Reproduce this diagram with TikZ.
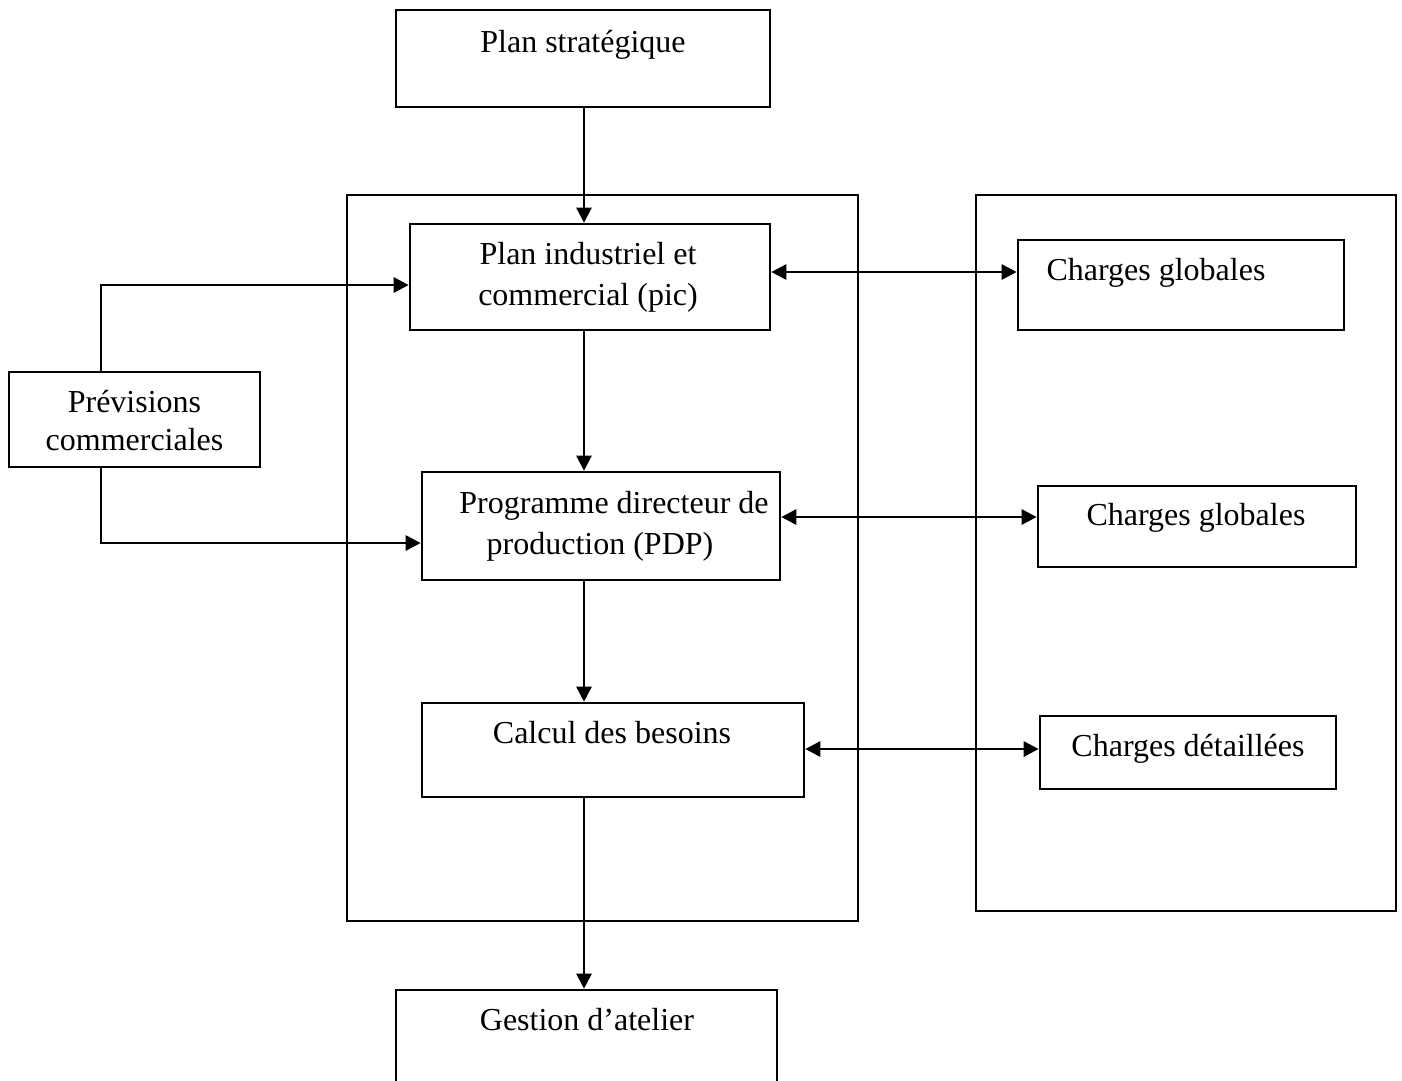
\documentclass[tikz,border=0pt]{standalone}
\usepackage{fontspec}
\setmainfont{Liberation Serif}
\usetikzlibrary{arrows.meta}
\begin{document}
\begin{tikzpicture}[x=1pt,y=-1pt,
  box/.style={draw, rectangle, inner sep=0pt, line width=2.6pt},
  lbl/.style={anchor=base, inner sep=0pt, font=\fontsize{32}{39}\selectfont},
  tip/.style={Triangle[length=15pt,width=15pt]},
  arr/.style={-{Triangle[length=15pt,width=15pt]}, line width=2.8pt},
  darr/.style={{Triangle[length=15pt,width=15pt]}-{Triangle[length=15pt,width=15pt]}, line width=2.8pt}]
\useasboundingbox (0,0) rectangle (1402,1080);
\clip (0,0) rectangle (1402,1080);
\fill[white] (0,0) rectangle (1402,1080);

% frames
\node[box, minimum width=511pt, minimum height=726pt] (frameL) at (602.5,558) {};
\node[box, minimum width=420pt, minimum height=716pt] (frameR) at (1186,553) {};

% boxes
\node[box, minimum width=374pt, minimum height=97pt]  (ps)   at (583,58.5) {};
\node[box, minimum width=360pt, minimum height=106pt] (pic)  at (590,277) {};
\node[box, minimum width=358pt, minimum height=108pt] (pdp)  at (601,526) {};
\node[box, minimum width=382pt, minimum height=94pt]  (cdb)  at (613,750) {};
\node[box, minimum width=381pt, minimum height=120pt] (ga)   at (586.5,1050) {};
\node[box, minimum width=251pt, minimum height=95pt]  (prev) at (134.5,419.5) {};
\node[box, minimum width=326pt, minimum height=90pt]  (cg1)  at (1181,285) {};
\node[box, minimum width=318pt, minimum height=81pt]  (cg2)  at (1197,526.5) {};
\node[box, minimum width=296pt, minimum height=73pt]  (cd)   at (1188,752.5) {};

% texts
\node[lbl] (tps)  at (583,52)   {Plan stratégique};
\node[lbl] (tpic1) at (588,264) {Plan industriel et};
\node[lbl] (tpic2) at (588,305) {commercial (pic)};
\node[lbl] (tpdp1) at (614,513) {Programme directeur de};
\node[lbl] (tpdp2) at (600,554) {production (PDP)};
\node[lbl] (tcdb) at (612,743)  {Calcul des besoins};
\node[lbl] (tga)  at (587,1030) {Gestion d’atelier};
\node[lbl] (tprev1) at (134.5,412) {Prévisions};
\node[lbl] (tprev2) at (134.5,450) {commerciales};
\node[lbl] (tcg1) at (1156,280) {Charges globales};
\node[lbl] (tcg2) at (1196,525) {Charges globales};
\node[lbl] (tcd)  at (1188,756) {Charges détaillées};

% main vertical flow
\coordinate (col) at (584,0);
\draw[arr] (col |- ps.south) -- (col |- pic.north);
\draw[arr] (col |- pic.south) -- (col |- pdp.north);
\draw[arr] (col |- pdp.south) -- (col |- cdb.north);
\draw[arr] (col |- cdb.south) -- (col |- ga.north);

% exchanges with the load boxes
\draw[darr] ([yshift=5pt]pic.east) -- ([yshift=5pt]pic.east -| cg1.west);
\draw[darr] ([yshift=9pt]pdp.east) -- ([yshift=9pt]pdp.east -| cg2.west);
\draw[darr] ([yshift=1pt]cdb.east) -- ([yshift=1pt]cdb.east -| cd.west);

% commercial forecasts feeding the plans
\draw[arr] ([xshift=-33.5pt]prev.north) |- ([yshift=-8pt]pic.west);
\draw[arr] ([xshift=-33.5pt]prev.south) |- ([yshift=-17pt]pdp.west);
\end{tikzpicture}
\end{document}
